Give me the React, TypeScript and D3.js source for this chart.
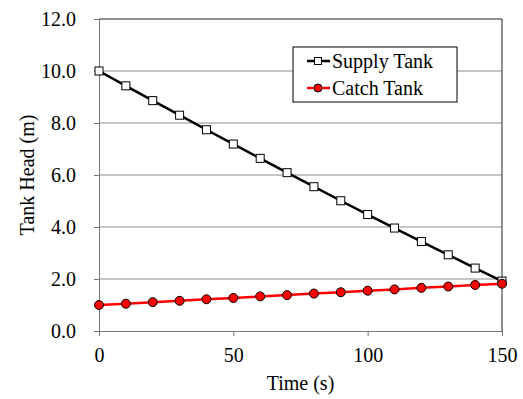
import { useEffect, useRef } from "react";
import * as d3 from "d3";

const times = [0, 10, 20, 30, 40, 50, 60, 70, 80, 90, 100, 110, 120, 130, 140, 150];
const supplyHead = [10.0, 9.43, 8.86, 8.3, 7.74, 7.19, 6.64, 6.09, 5.55, 5.01, 4.48, 3.96, 3.44, 2.93, 2.42, 1.92];
const catchHead = [1.0, 1.05, 1.11, 1.16, 1.22, 1.27, 1.33, 1.38, 1.44, 1.49, 1.55, 1.6, 1.66, 1.71, 1.77, 1.82];
const xTicks = [0, 50, 100, 150];
const yTicks = [0, 2, 4, 6, 8, 10, 12];

export default function App() {
  const ref = useRef<SVGSVGElement>(null);

  useEffect(() => {
    const width = 523;
    const height = 399;
    const marginTop = 19;
    const marginRight = 21;
    const marginBottom = 68;
    const marginLeft = 99;
    const font = "Liberation Serif, DejaVu Serif, serif";

    const svg = d3.select(ref.current);
    svg.selectAll("*").remove();
    svg.attr("width", width).attr("height", height).attr("viewBox", [0, 0, width, height].join(" "))
      .style("position", "absolute").style("left", 0).style("top", 0)
      .attr("font-family", font);

    const x = d3.scaleLinear().domain([0, 150]).range([marginLeft, width - marginRight]);
    const y = d3.scaleLinear().domain([0, 12]).range([height - marginBottom, marginTop]);

    // gridlines
    svg.append("g")
      .selectAll("line")
      .data(yTicks.filter(d => d > 0 && d < 12))
      .join("line")
      .attr("x1", x(0)).attr("x2", x(150))
      .attr("y1", d => y(d)).attr("y2", d => y(d))
      .attr("stroke", "#8c8c8c").attr("stroke-width", 1);

    // top and right border
    svg.append("path")
      .attr("d", `M${x(0)},${y(12)}H${x(150)}V${y(0)}`)
      .attr("fill", "none").attr("stroke", "#222").attr("stroke-width", 1);

    // y axis
    const yAxis = svg.append("g")
      .attr("transform", `translate(${x(0)},0)`)
      .call(d3.axisLeft(y).tickValues(yTicks).tickFormat(d3.format(".1f")).tickSize(5).tickPadding(18).tickSizeOuter(0))
      .attr("font-family", font).attr("font-size", 20);
    yAxis.select(".domain").attr("stroke", "#777");
    yAxis.selectAll(".tick line").attr("stroke", "#777");
    yAxis.selectAll("text").attr("fill", "#000");

    // x axis
    const xAxis = svg.append("g")
      .attr("transform", `translate(0,${y(0)})`)
      .call(d3.axisBottom(x).tickValues(xTicks).tickFormat(d3.format("d")).tickSize(5).tickPadding(12).tickSizeOuter(0))
      .attr("font-family", font).attr("font-size", 20);
    xAxis.select(".domain").attr("stroke", "#777");
    xAxis.selectAll(".tick line").attr("stroke", "#777");
    xAxis.selectAll("text").attr("fill", "#000");

    // axis titles
    svg.append("text")
      .attr("transform", `translate(27,${(y(0) + y(12)) / 2}) rotate(-90)`)
      .attr("text-anchor", "middle").attr("dy", "0.35em")
      .attr("font-size", 20).text("Tank Head (m)");
    svg.append("text")
      .attr("x", (x(0) + x(150)) / 2).attr("y", 390)
      .attr("text-anchor", "middle")
      .attr("font-size", 20).text("Time (s)");

    const line = d3.line<number>().x((_, i) => x(times[i])).y(d => y(d));

    // supply tank
    svg.append("path").datum(supplyHead)
      .attr("d", line).attr("fill", "none").attr("stroke", "#000").attr("stroke-width", 2.5);
    svg.append("g").selectAll("rect").data(supplyHead).join("rect")
      .attr("x", (_, i) => x(times[i]) - 4).attr("y", d => y(d) - 4)
      .attr("width", 8).attr("height", 8)
      .attr("fill", "#fff").attr("stroke", "#000").attr("stroke-width", 1);

    // catch tank
    svg.append("path").datum(catchHead)
      .attr("d", line).attr("fill", "none").attr("stroke", "#ff0000").attr("stroke-width", 2.5);
    svg.append("g").selectAll("circle").data(catchHead).join("circle")
      .attr("cx", (_, i) => x(times[i])).attr("cy", d => y(d))
      .attr("r", 4.5)
      .attr("fill", "#ff0000").attr("stroke", "#000").attr("stroke-width", 1);

    // legend
    const lg = svg.append("g").attr("transform", "translate(293,47)");
    lg.append("rect").attr("width", 164).attr("height", 55)
      .attr("fill", "#fff").attr("stroke", "#000").attr("stroke-width", 1);
    const items = [
      { name: "Supply Tank", color: "#000", marker: "square", yy: 14 },
      { name: "Catch Tank", color: "#ff0000", marker: "circle", yy: 41 },
    ];
    items.forEach(it => {
      lg.append("line").attr("x1", 14).attr("x2", 37).attr("y1", it.yy).attr("y2", it.yy)
        .attr("stroke", it.color).attr("stroke-width", 2.5);
      if (it.marker === "square") {
        lg.append("rect").attr("x", 21.5).attr("y", it.yy - 3.5).attr("width", 7).attr("height", 7)
          .attr("fill", "#fff").attr("stroke", "#000").attr("stroke-width", 1);
      } else {
        lg.append("circle").attr("cx", 25).attr("cy", it.yy).attr("r", 4)
          .attr("fill", "#ff0000").attr("stroke", "#000").attr("stroke-width", 1);
      }
      lg.append("text").attr("x", 39).attr("y", it.yy).attr("dy", "0.35em")
        .attr("font-size", 20).text(it.name);
    });
  }, []);

  return <svg ref={ref}></svg>;
}
